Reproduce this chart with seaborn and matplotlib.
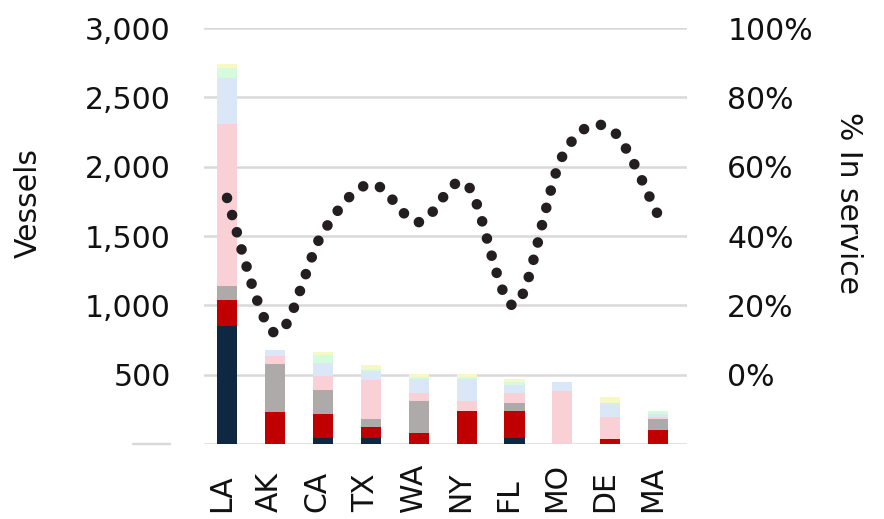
import numpy as np
import pandas as pd
import seaborn as sns
import matplotlib.pyplot as plt
import matplotlib.transforms as mtransforms
from matplotlib.path import Path
from matplotlib.patches import PathPatch
from matplotlib.ticker import FuncFormatter

# =======================
# Data
# =======================
states = ["LA", "AK", "CA", "TX", "WA", "NY", "FL", "MO", "DE", "MA"]
navy = [853, 0, 46, 46, 0, 0, 46, 0, 0, 0]
red = [185, 233, 170, 77, 79, 238, 192, 0, 36, 101]
gray = [101, 344, 173, 57, 231, 0, 58, 0, 0, 79]
pink = [1169, 60, 104, 284, 58, 72, 72, 382, 159, 15]
blue = [334, 41, 91, 62, 101, 159, 57, 65, 101, 21]
green = [72, 0, 60, 15, 16, 16, 22, 0, 0, 22]
yellow = [26, 0, 19, 29, 22, 22, 22, 0, 43, 0]
pct_in_service = [51, 12, 41, 55, 44, 55, 20, 63, 71, 46]

left_ticks = [0, 500, 1000, 1500, 2000, 2500, 3000]
right_ticks = [0, 0.2, 0.4, 0.6, 0.8, 1.0]

layer_names = ["navy", "red", "gray", "pink", "blue", "green", "yellow"]
layer_colors = {"navy": "#0E2841", "red": "#C00000", "gray": "#AEAAAA",
                "pink": "#F9D0D6", "blue": "#DAE7F6", "green": "#D3FBDC",
                "yellow": "#F7F8C4"}

df = pd.DataFrame({"navy": navy, "red": red, "gray": gray, "pink": pink,
                   "blue": blue, "green": green, "yellow": yellow}, index=states)
cum = df[layer_names].cumsum(axis=1)

# =======================
# Style
# =======================
sns.set_theme(style="white")
plt.rcParams['font.family'] = ['DejaVu Sans']
FS = 21.5
TXT = "#111111"

fig = plt.figure(figsize=(8.84, 5.19), dpi=100)
ax = fig.add_axes([0.2308, 0.1445, 0.5463, 0.8015])

# stacked bars: draw cumulative totals from the top layer down
for name in reversed(layer_names):
    sns.barplot(x=states, y=cum[name].values, color=layer_colors[name],
                width=0.42, saturation=1, linewidth=0, ax=ax)

ax.set_xlim(-0.48, 9.6)
ax.set_ylim(0, 3000)
ax.set_yticks(left_ticks)
ax.yaxis.set_major_formatter(FuncFormatter(lambda v, p: "" if v == 0 else f"{int(v):,}"))
ax.set_axisbelow(True)
ax.grid(axis='y', color='#d9d9d9', lw=1.8)
ax.grid(axis='x', visible=False)
for s in ax.spines.values():
    s.set_visible(False)
ax.tick_params(axis='y', length=0, pad=24, labelsize=FS, labelcolor=TXT)
ax.tick_params(axis='x', length=0, pad=49, labelsize=FS, labelcolor=TXT, labelrotation=90)
shift = mtransforms.ScaledTranslation(-4 / 72, 0, fig.dpi_scale_trans)
for lbl in ax.get_xticklabels():
    lbl.set_va('bottom')
    lbl.set_transform(lbl.get_transform() + shift)

ax.set_ylabel("Vessels", fontsize=FS, color=TXT)
ax.yaxis.set_label_coords(-0.333, 0.58)

# dash in place of the zero label
ax.annotate('', xy=(-0.0704, 0), xytext=(-0.147, 0), xycoords='axes fraction',
            annotation_clip=False,
            arrowprops=dict(arrowstyle='-', color='#d9d9d9', lw=1.8, shrinkA=0, shrinkB=0))

# =======================
# Secondary axis: smoothed dotted line
# =======================
ax2 = ax.twinx()
ax2.set_ylim(-0.2, 1.0)
ax2.set_yticks(right_ticks)
ax2.yaxis.set_major_formatter(FuncFormatter(lambda v, p: f"{v * 100:.0f}%"))
for s in ax2.spines.values():
    s.set_visible(False)
ax2.grid(False)
ax2.tick_params(axis='y', length=0, pad=29, labelsize=FS, labelcolor=TXT)
ax2.set_ylabel("% In service", fontsize=FS, color=TXT, rotation=270, va='bottom')
ax2.yaxis.set_label_coords(1.304, 0.58)

pts = np.column_stack([np.arange(len(states)), np.array(pct_in_service) / 100])
n = len(pts)
verts = [tuple(pts[0])]
codes = [Path.MOVETO]
for i in range(n - 1):
    p_prev = pts[max(i - 1, 0)]
    p_next = pts[min(i + 2, n - 1)]
    c1 = pts[i] + (pts[i + 1] - p_prev) / 6
    c2 = pts[i + 1] - (p_next - pts[i]) / 6
    verts += [tuple(c1), tuple(c2), tuple(pts[i + 1])]
    codes += [Path.CURVE4] * 3
ax2.add_patch(PathPatch(Path(verts, codes), fill=False, edgecolor='#231F20', lw=7.6,
                        linestyle=(0, (0.01, 1.68)), capstyle='round'))

fig.savefig("out.png", dpi=100)
